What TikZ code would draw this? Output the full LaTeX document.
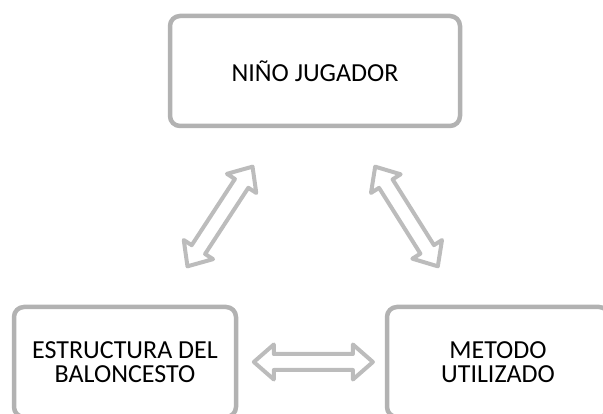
\documentclass[tikz,border=0pt]{standalone}
\usepackage{fontspec}
\setmainfont{Carlito}
\usetikzlibrary{calc}

\definecolor{framegray}{RGB}{178,178,178}
\definecolor{arrowgray}{RGB}{188,188,188}

\tikzset{
  box/.style={draw=framegray, line width=4.5pt, rounded corners=10pt,
    minimum height=110pt, align=center, font=\fontsize{26}{24}\selectfont},
  arrowline/.style={draw=arrowgray, line width=4pt, line join=round}
}

% outlined double block arrow between two coordinates
\newcommand{\blockarrow}[2]{%
  \coordinate (p) at ($(#1)!2pt!(#2)$);
  \coordinate (q) at ($(#2)!2pt!(#1)$);
  \coordinate (hp) at ($(p)!20pt!(q)$);
  \coordinate (hq) at ($(q)!20pt!(p)$);
  \draw[arrowline] (p) -- ($(hp)!17.5pt!90:(q)$) -- ($(hp)!8pt!90:(q)$)
    -- ($(hq)!8pt!-90:(p)$) -- ($(hq)!17.5pt!-90:(p)$) -- (q)
    -- ($(hq)!17.5pt!90:(p)$) -- ($(hq)!8pt!90:(p)$)
    -- ($(hp)!8pt!-90:(q)$) -- ($(hp)!17.5pt!-90:(q)$) -- cycle;
}

\begin{document}
\begin{tikzpicture}[x=1pt,y=1pt]
\useasboundingbox (0,0) rectangle (603,414);
\clip (0,0) rectangle (603,414);
% Draw the three boxes
\node[box, minimum width=290pt] (nino) at (315,343) {NIÑO JUGADOR};
\node[box, minimum width=222pt] (estructura) at (125,52) {ESTRUCTURA DEL\\BALONCESTO};
\node[box, minimum width=222pt] (metodo) at (498,52) {METODO\\UTILIZADO};
% Ends of the arrows, on the lines between the box centres
\coordinate (left-top) at ($(nino.center)!0.323!(estructura.center)$);
\coordinate (left-bottom) at ($(nino.center)!0.677!(estructura.center)$);
\coordinate (right-top) at ($(nino.center)!0.323!(metodo.center)$);
\coordinate (right-bottom) at ($(nino.center)!0.677!(metodo.center)$);
\coordinate (mid-left) at ($(estructura.center)!0.34!(metodo.center)$);
\coordinate (mid-right) at ($(estructura.center)!0.67!(metodo.center)$);
% Draw the double arrows
\blockarrow{left-top}{left-bottom}
\blockarrow{right-top}{right-bottom}
\blockarrow{mid-left}{mid-right}
\end{tikzpicture}
\end{document}
